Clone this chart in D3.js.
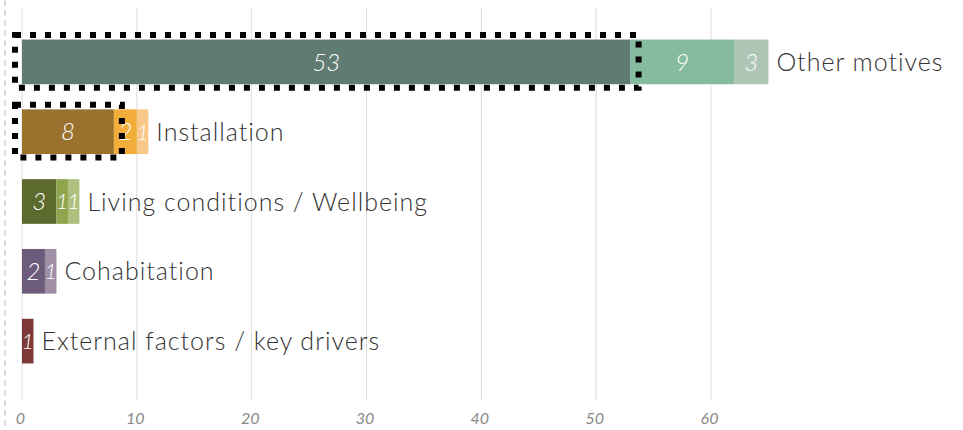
<!DOCTYPE html>
<html>
<head>
<meta charset="utf-8">
<script src="https://cdn.jsdelivr.net/npm/d3@7"></script>
<style>
  body { margin: 0; background: #fff; }
  svg { display: block; font-family: "Lato", "Noto Sans", sans-serif; }
</style>
</head>
<body>
<svg id="chart" width="963" height="430"></svg>
<script>
// categories, top to bottom
var categories = ["Other motives", "Installation", "Living conditions / Wellbeing", "Cohabitation", "External factors / key drivers"];
// stacked segments for each category
var values = [[53, 9, 3], [8, 2, 1], [3, 1, 1], [2, 1], [1]];
var colors = [
  ["#5f7b72", "#86bb9e", "#aec6b5"],
  ["#9b712e", "#f2ad3a", "#f8c888"],
  ["#5c6a2d", "#8ea54e", "#afbf7e"],
  ["#6c5b7a", "#9f8ea6"],
  ["#7c3938"]
];
// which bars get the dotted highlight on first segment
var highlighted = ["Other motives", "Installation"];
var ticks = [0, 10, 20, 30, 40, 50, 60];

var svg = d3.select("#chart");

var x = d3.scaleLinear().domain([0, 60]).range([22, 711]);
var y = d3.scaleBand().domain(categories).range([27, 376]).paddingInner(0.36).paddingOuter(0.18);

// dashed line at the left
svg.append("line")
  .attr("x1", 5).attr("x2", 5).attr("y1", 0).attr("y2", 430)
  .attr("stroke", "#bbb").attr("stroke-dasharray", "6,4").attr("stroke-width", 1);

// grid lines
svg.append("g").selectAll("line")
  .data(ticks)
  .enter().append("line")
    .attr("x1", function(d) { return x(d); })
    .attr("x2", function(d) { return x(d); })
    .attr("y1", 8).attr("y2", 400)
    .attr("stroke", "#ddd").attr("stroke-width", 1);

// axis tick labels
var axis = svg.append("g")
  .attr("transform", "translate(-2,413)")
  .call(d3.axisBottom(x).tickValues(ticks).tickSize(0).tickPadding(0));
axis.select(".domain").remove();
axis.selectAll("text")
  .attr("dy", "0.71em")
  .attr("font-size", 16).attr("font-style", "italic")
  .attr("font-family", "Lato, sans-serif")
  .attr("fill", "#888");

// build segments
var segs = [];
categories.forEach(function(c, i) {
  var start = 0;
  values[i].forEach(function(v, j) {
    segs.push({cat: c, x0: start, x1: start + v, v: v, color: colors[i][j], first: j === 0});
    start += v;
  });
});

var g = svg.append("g");
g.selectAll(".bar")
  .data(segs)
  .enter().append("rect")
    .attr("class", "bar")
    .attr("x", function(d) { return x(d.x0); })
    .attr("y", function(d) { return y(d.cat); })
    .attr("width", function(d) { return x(d.x1) - x(d.x0); })
    .attr("height", y.bandwidth())
    .attr("fill", function(d) { return d.color; });

// value labels, a bit smaller in the thin segments
g.selectAll(".val")
  .data(segs)
  .enter().append("text")
    .attr("class", "val")
    .attr("x", function(d) { return (x(d.x0) + x(d.x1)) / 2; })
    .attr("y", function(d) { return y(d.cat) + y.bandwidth() / 2; })
    .attr("dy", "0.36em")
    .attr("text-anchor", "middle")
    .attr("font-size", function(d) { return x(d.x1) - x(d.x0) < 20 ? 22 : 24; })
    .attr("font-style", "italic").attr("font-weight", 300)
    .attr("fill", "#fff")
    .text(function(d) { return d.v; });

// category labels after bar ends
svg.append("g").selectAll("text")
  .data(categories)
  .enter().append("text")
    .attr("x", function(d, i) { return x(d3.sum(values[i])) + 8; })
    .attr("y", function(d) { return y(d) + y.bandwidth() / 2; })
    .attr("dy", "0.36em")
    .attr("font-size", 25).attr("font-weight", 300)
    .attr("letter-spacing", 1)
    .attr("fill", "#333")
    .text(function(d) { return d; });

// dotted highlight boxes
svg.append("g").selectAll("rect")
  .data(segs.filter(function(d) { return d.first && highlighted.indexOf(d.cat) >= 0; }))
  .enter().append("rect")
    .attr("x", function(d) { return x(d.x0) - 7; })
    .attr("y", function(d) { return y(d.cat) - 4.5; })
    .attr("width", function(d) { return x(d.x1) - x(d.x0) + 15; })
    .attr("height", y.bandwidth() + 8)
    .attr("fill", "none")
    .attr("stroke", "#000").attr("stroke-width", 6)
    .attr("stroke-dasharray", "6,9");
</script>
</body>
</html>
